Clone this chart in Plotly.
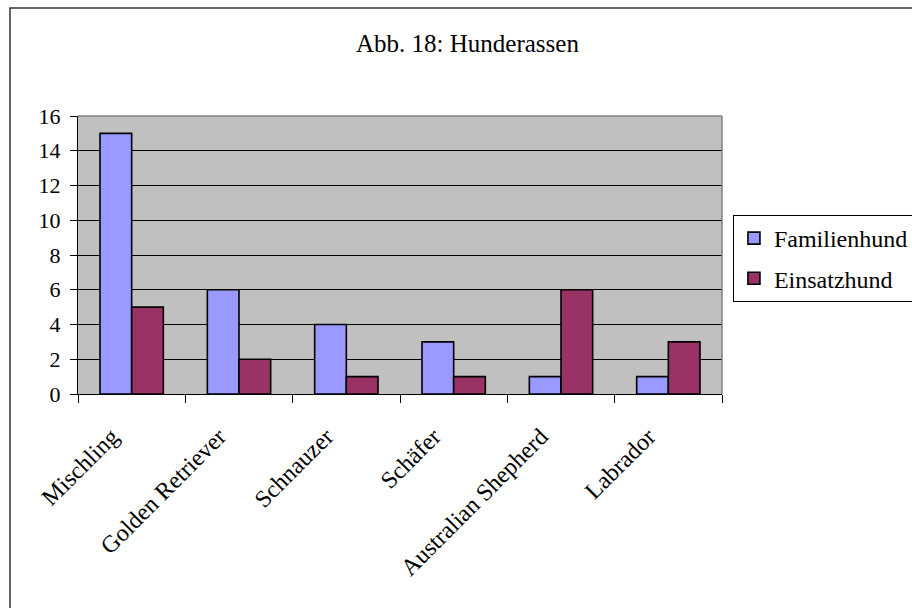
import plotly.graph_objects as go

categories = ["Mischling", "Golden Retriever", "Schnauzer", "Schäfer", "Australian Shepherd", "Labrador"]
familienhund = [15, 6, 4, 3, 1, 1]
einsatzhund = [5, 2, 1, 1, 6, 3]
y_ticks = [0, 2, 4, 6, 8, 10, 12, 14, 16]

FONT = "Liberation Serif"

fig = go.Figure()
fig.add_trace(go.Bar(
    x=categories, y=familienhund, name="Familienhund",
    marker=dict(color="#9999FF", line=dict(color="black", width=1.6)),
    legendgroup="a",
))
fig.add_trace(go.Bar(
    x=categories, y=einsatzhund, name="Einsatzhund",
    marker=dict(color="#993366", line=dict(color="black", width=1.6)),
    legendgroup="b",
))

fig.update_layout(
    width=912, height=608,
    margin=dict(l=78, r=190, t=116, b=214, autoexpand=False),
    paper_bgcolor="white",
    plot_bgcolor="#C0C0C0",
    barmode="group",
    bargap=0.41,
    bargroupgap=0,
    font=dict(family=FONT, color="black", size=22),
    title=dict(
        text="Abb. 18: Hunderassen",
        font=dict(family=FONT, size=25, color="black"),
        x=0.5126, xanchor="center",
        xref="container", yref="container",
        y=0.929, yanchor="middle",
    ),
    legend=dict(
        x=1.017, xanchor="left",
        y=0.6439, yanchor="top",
        bordercolor="black", borderwidth=1,
        bgcolor="white",
        font=dict(family=FONT, size=24, color="black"),
        traceorder="grouped",
        tracegroupgap=6,
        itemwidth=30,
    ),
    showlegend=True,
)

fig.update_xaxes(
    type="category",
    tickson="boundaries",
    ticks="outside", ticklen=8, tickcolor="black", tickwidth=1,
    tickangle=-45,
    ticklabelstandoff=18,
    ticklabelshift=-20,
    tickfont=dict(family=FONT, size=24, color="black"),
    showline=True, linecolor="black", linewidth=1,
    showgrid=False,
)
fig.update_yaxes(
    range=[0, 16],
    tickvals=y_ticks,
    ticks="outside", ticklen=7, tickcolor="black", tickwidth=1,
    ticklabelstandoff=5,
    tickfont=dict(family=FONT, size=22, color="black"),
    showline=True, linecolor="black", linewidth=1,
    showgrid=True, gridcolor="black", gridwidth=1,
    zeroline=False,
)

# plot-area top and right border (gray)
fig.add_shape(type="line", xref="paper", yref="paper", x0=0, x1=1, y0=1, y1=1,
              line=dict(color="#808080", width=1.5))
fig.add_shape(type="line", xref="paper", yref="paper", x0=1, x1=1, y0=0, y1=1,
              line=dict(color="#808080", width=1.5))
# outer chart border (extends beyond the window on right and bottom)
fig.add_shape(type="rect", xref="paper", yref="paper",
              x0=-0.1056, x1=2, y0=-2, y1=1.3885,
              line=dict(color="#333333", width=1.5), fillcolor="rgba(0,0,0,0)")

fig.write_html("out.html")
